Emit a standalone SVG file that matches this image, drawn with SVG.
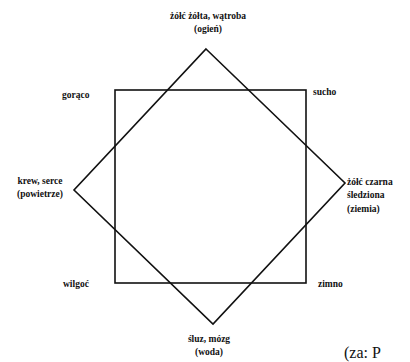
<svg xmlns="http://www.w3.org/2000/svg" width="410" height="362" viewBox="0 0 410 362">
<style>
.t{font-family:"Liberation Serif","DejaVu Serif",serif;font-size:9.5px;font-weight:bold;fill:#111}
.c{text-anchor:middle}
.s{fill:none;stroke:#111;stroke-width:1.6}
</style>
<rect width="410" height="362" fill="#fff"/>
<g id="connectors">
<rect class="s" x="115" y="90" width="191" height="193"/>
<polygon class="s" points="206,49 345,183 213,324 74,190"/>
</g>
<g id="top"><text class="t c" x="208" y="19">żółć żółta, wątroba</text><text class="t c" x="208" y="32">(ogień)</text></g>
<g id="goraco"><text class="t" x="62" y="98">gorąco</text></g>
<g id="sucho"><text class="t" x="313" y="95">sucho</text></g>
<g id="left"><text class="t c" x="40" y="184">krew, serce</text><text class="t c" x="40" y="197">(powietrze)</text></g>
<g id="right"><text class="t" x="347" y="185">żółć czarna</text><text class="t" x="347" y="198">śledziona</text><text class="t" x="347" y="212">(ziemia)</text></g>
<g id="wilgoc"><text class="t" x="63" y="287">wilgoć</text></g>
<g id="zimno"><text class="t" x="318" y="287">zimno</text></g>
<g id="bottom"><text class="t c" x="209" y="342">śluz, mózg</text><text class="t c" x="209" y="355">(woda)</text></g>
<text x="344" y="358" style="font-family:'Liberation Serif',serif;font-size:16px;fill:#111">(za: P</text>
</svg>
